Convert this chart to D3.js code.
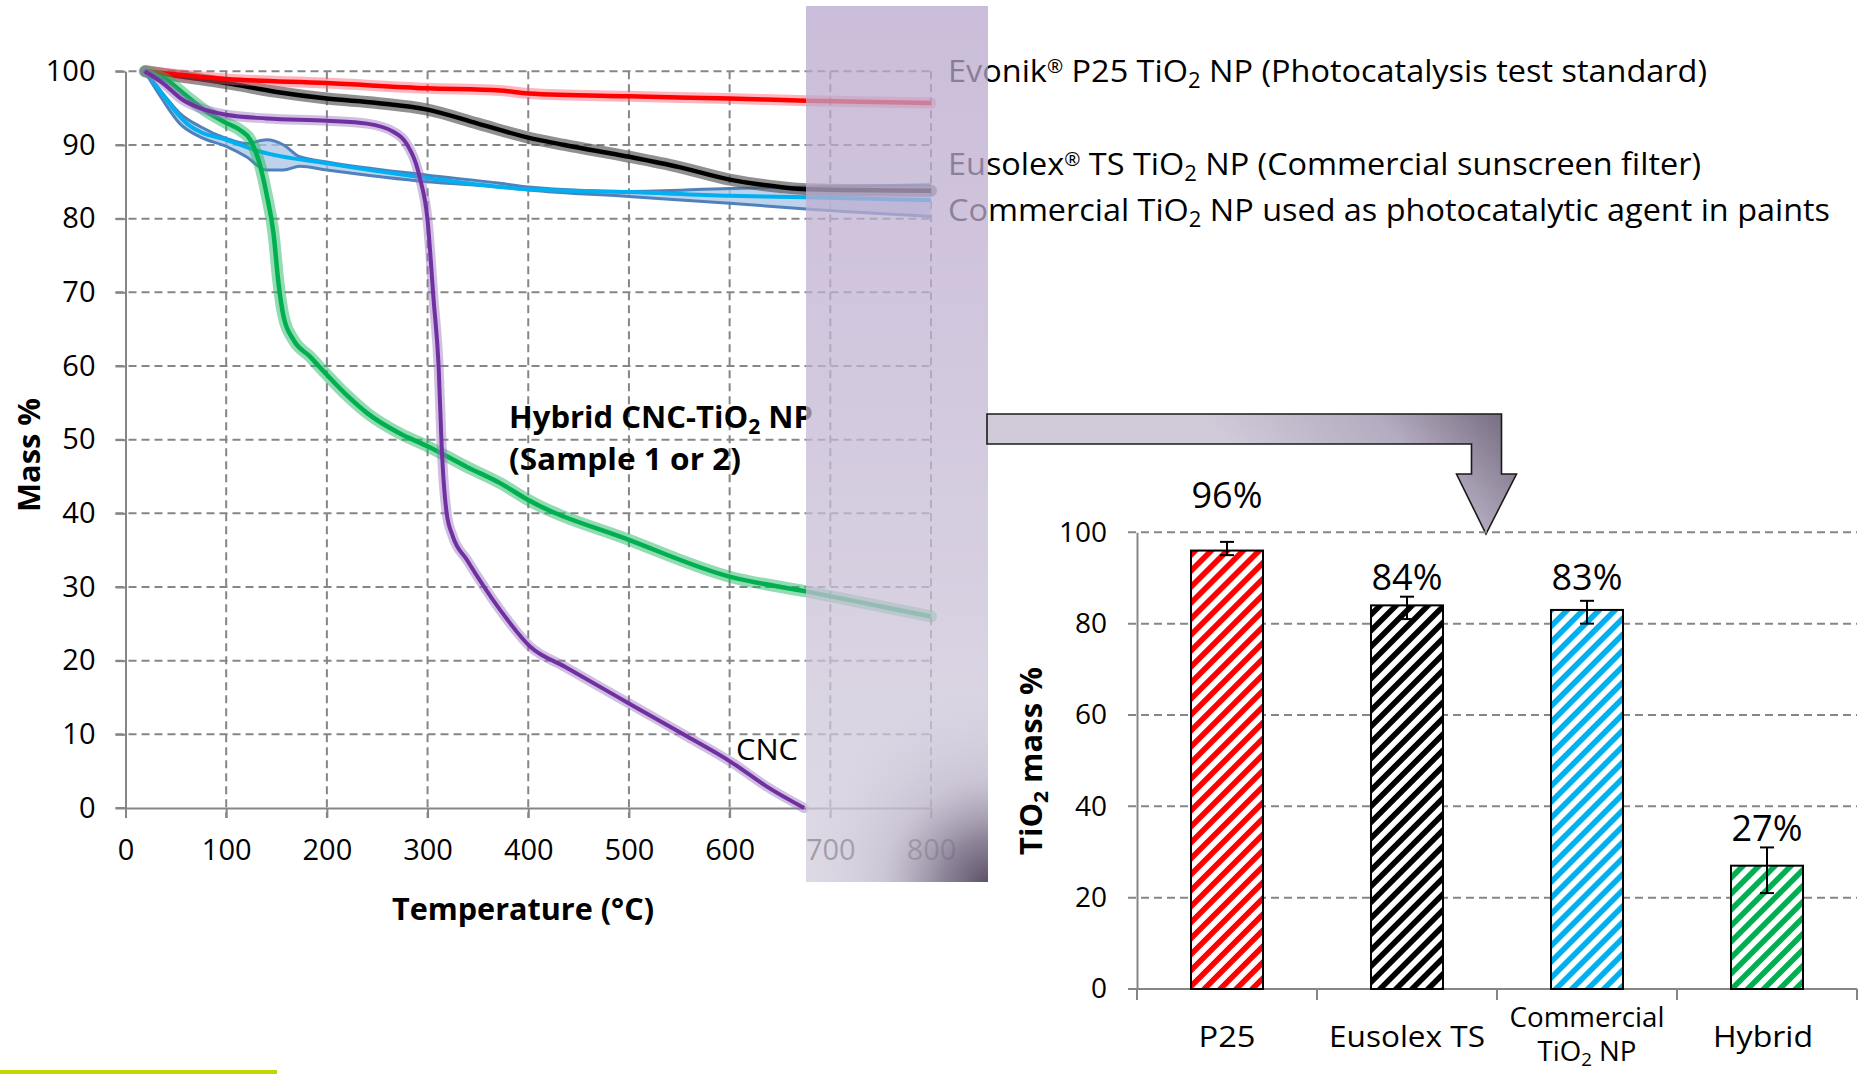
<!DOCTYPE html>
<html>
<head>
<meta charset="utf-8">
<script src="https://cdn.jsdelivr.net/npm/d3@7"></script>
<style>
html, body { margin: 0; padding: 0; background: #fff; }
svg { display: block; font-family: "Open Sans", sans-serif; }
</style>
</head>
<body>
<svg id="chart" width="1864" height="1074"></svg>
<script>
// ---- TGA curves: temperature (°C) / mass (%) ----
var p25Temp = [20, 100, 200, 300, 372, 400, 500, 600, 676, 800];
var p25Mass = [100, 98.95, 98.4, 97.7, 97.4, 97.0, 96.6, 96.3, 96.0, 95.7];

var eusolexTemp = [20, 60, 100, 150, 200, 250, 300, 350, 400, 436, 500, 550, 600, 650, 676, 800];
var eusolexMass = [100, 99.2, 98.4, 97.2, 96.3, 95.7, 94.8, 92.9, 91.0, 90.0, 88.4, 87.0, 85.3, 84.3, 84.0, 83.8];

// commercial TiO2: spread band (upper / lower) plus mean line
var commercialTemp = [19, 37, 54, 74, 100, 120, 140, 157, 173, 200, 300, 372, 400, 500, 600, 676, 800];
var commercialUpper = [100, 97.0, 94.3, 92.5, 90.9, 90.2, 90.7, 90.0, 88.4, 87.7, 85.9, 84.8, 84.3, 83.7, 84.1, 84.3, 84.6];
var commercialLower = [100, 96.1, 92.9, 91.1, 89.8, 88.4, 86.6, 86.6, 87.1, 86.6, 85.0, 84.3, 83.9, 83.0, 82.1, 81.3, 80.3];
var commercialMeanTemp = [19, 31, 41, 51, 61, 74, 100, 134, 200, 300, 372, 400, 500, 600, 676, 800];
var commercialMean = [100, 97.9, 96.1, 94.3, 92.9, 91.8, 90.7, 89.1, 87.5, 85.5, 84.3, 84.0, 83.6, 83.1, 82.9, 82.5];

var hybridTemp = [19, 41, 61, 81, 100, 114, 124, 132, 140, 147, 152, 157, 167, 183, 200, 220, 240, 273, 300, 339, 372, 400, 500, 600, 676, 800];
var hybridMass = [100, 98.8, 96.6, 94.5, 93.0, 92.0, 90.7, 88.0, 83.4, 78.0, 71.2, 66.7, 63.5, 61.3, 58.8, 56.0, 53.6, 50.8, 49.1, 46.3, 44.1, 41.8, 36.4, 31.4, 29.4, 26.0];

var cncTemp = [19, 37, 57, 74, 100, 140, 200, 240, 266, 279, 292, 300, 306, 311, 314, 319, 325, 339, 372, 402, 436, 500, 558, 603, 637, 674];
var cncMass = [100, 98.4, 96.1, 95.0, 94.1, 93.6, 93.3, 92.9, 91.8, 90.2, 85.7, 79.8, 69.0, 59.9, 49.1, 40.0, 36.9, 33.7, 26.9, 21.9, 19.2, 14.2, 9.7, 6.1, 2.9, 0];

var tempTicks = [0, 100, 200, 300, 400, 500, 600, 700, 800];
var massTicks = [0, 10, 20, 30, 40, 50, 60, 70, 80, 90, 100];

// legend lines ("_" = subscript, "^" = superscript)
var legendP25 = ["Evonik", "^®", " P25 TiO", "_2", " NP (Photocatalysis test standard)"];
var legendEusolex = ["Eusolex", "^®", " TS TiO", "_2", " NP (Commercial sunscreen filter)"];
var legendCommercial = ["Commercial TiO", "_2", " NP used as photocatalytic agent in paints"];

// ---- bar chart: TiO2 residue ----
var barNames = ["P25", "Eusolex TS", "Commercial TiO2 NP", "Hybrid"];
var barValues = [96, 84, 83, 27];
var barErrLow = [95, 81, 80, 21];
var barErrHigh = [97.9, 85.9, 85, 31];
var barLabels = ["96%", "84%", "83%", "27%"];
var barLabelAt = [105.3, 87.4, 87.4, 32.3];
var barColors = ["#ff0000", "#000000", "#00b0f0", "#00b050"];
var barTicks = [0, 20, 40, 60, 80, 100];

var svg = d3.select("#chart");
var defs = svg.append("defs");
var gridColor = "#868686";

function addRich(parent, parts, x0, y0, size) {
    var t = parent.append("text").attr("x", x0).attr("y", y0).attr("font-size", size);
    var shift = 0;
    parts.forEach(function (s) {
        var sp = t.append("tspan");
        var target = 0;
        if (s[0] === "_") { target = Math.round(size * 0.2); sp.text(s.slice(1)).attr("font-size", size * 0.68); }
        else if (s[0] === "^") { target = -Math.round(size * 0.3); sp.text(s.slice(1)).attr("font-size", size * 0.6); }
        else sp.text(s);
        if (target !== shift) { sp.attr("dy", target - shift); shift = target; }
    });
    return t;
}

// ================= left chart =================
var x = d3.scaleLinear().domain([0, 800]).range([125.5, 931]);
var y = d3.scaleLinear().domain([0, 100]).range([808, 71.3]);

var grid = svg.append("g");
grid.selectAll("line.h").data(massTicks.filter(function (d) { return d > 0; }))
    .join("line").attr("class", "h")
    .attr("x1", x(0) - 10).attr("x2", x(800))
    .attr("y1", function (d) { return y(d); }).attr("y2", function (d) { return y(d); })
    .attr("stroke", gridColor).attr("stroke-width", 2).attr("stroke-dasharray", "8,5");
grid.selectAll("line.v").data(tempTicks.filter(function (d) { return d > 0; }))
    .join("line").attr("class", "v")
    .attr("x1", function (d) { return x(d); }).attr("x2", function (d) { return x(d); })
    .attr("y1", y(100)).attr("y2", y(0) + 10)
    .attr("stroke", gridColor).attr("stroke-width", 2).attr("stroke-dasharray", "8,5");

var yAxis = svg.append("g")
    .attr("transform", "translate(" + x(0) + ",0)")
    .call(d3.axisLeft(y).tickValues(massTicks).tickSize(10).tickSizeOuter(0).tickPadding(20));
var xAxis = svg.append("g")
    .attr("transform", "translate(0," + y(0) + ")")
    .call(d3.axisBottom(x).tickValues(tempTicks).tickSize(10).tickSizeOuter(0).tickPadding(21));
svg.append("line")
    .attr("x1", x(0) - 10).attr("x2", x(0)).attr("y1", y(0)).attr("y2", y(0))
    .attr("stroke", gridColor).attr("stroke-width", 2);

[yAxis, xAxis].forEach(function (g) {
    g.attr("font-family", null).attr("font-size", 29);
    g.selectAll(".domain, line").attr("stroke", gridColor).attr("stroke-width", 2);
    g.selectAll("text").attr("fill", "#000");
});

var lineGen = function (temps) {
    return d3.line()
        .x(function (d, i) { return x(temps[i]); })
        .y(function (d) { return y(d); })
        .curve(d3.curveMonotoneX);
};

// commercial band
svg.append("path")
    .datum(commercialUpper)
    .attr("d", d3.area()
        .x(function (d, i) { return x(commercialTemp[i]); })
        .y0(function (d, i) { return y(commercialLower[i]); })
        .y1(function (d) { return y(d); })
        .curve(d3.curveMonotoneX))
    .attr("fill", "#aac3e6").attr("fill-opacity", 0.75);
[commercialUpper, commercialLower].forEach(function (arr) {
    svg.append("path").datum(arr)
        .attr("d", lineGen(commercialTemp))
        .attr("fill", "none").attr("stroke", "#4f81bd").attr("stroke-width", 3);
});
svg.append("path").datum(commercialMean)
    .attr("d", lineGen(commercialMeanTemp))
    .attr("fill", "none").attr("stroke", "#00b0f0").attr("stroke-width", 4);

function drawSeries(temps, masses, color, bandColor, bandW, bandOp, w) {
    svg.append("path").datum(masses)
        .attr("d", lineGen(temps))
        .attr("fill", "none").attr("stroke", bandColor)
        .attr("stroke-opacity", bandOp).attr("stroke-width", bandW)
        .attr("stroke-linecap", "round");
    svg.append("path").datum(masses)
        .attr("d", lineGen(temps))
        .attr("fill", "none").attr("stroke", color).attr("stroke-width", w);
}
drawSeries(eusolexTemp, eusolexMass, "#000000", "#555555", 12, 0.65, 4.5);
drawSeries(p25Temp, p25Mass, "#ff0000", "#ff5a6e", 11, 0.45, 4.5);
drawSeries(hybridTemp, hybridMass, "#00b050", "#28b866", 12, 0.5, 4.5);
drawSeries(cncTemp, cncMass, "#7030a0", "#9a70c0", 10, 0.45, 4);

// axis titles
svg.append("text")
    .attr("x", 523).attr("y", 920).attr("text-anchor", "middle")
    .attr("font-size", 30).attr("font-weight", "bold")
    .attr("textLength", 262).attr("lengthAdjust", "spacingAndGlyphs")
    .text("Temperature (°C)");
svg.append("text")
    .attr("x", 40).attr("y", 455).attr("text-anchor", "middle")
    .attr("transform", "rotate(-90 40 455)")
    .attr("font-size", 31).attr("font-weight", "bold")
    .attr("textLength", 114).attr("lengthAdjust", "spacingAndGlyphs")
    .text("Mass %");

// annotations
addRich(svg, ["Hybrid CNC-TiO", "_2", " NP"], 509, 428, 31)
    .attr("font-weight", "bold")
    .attr("textLength", 304).attr("lengthAdjust", "spacingAndGlyphs");
svg.append("text")
    .attr("x", 509).attr("y", 470).attr("font-size", 31).attr("font-weight", "bold")
    .attr("textLength", 232).attr("lengthAdjust", "spacingAndGlyphs")
    .text("(Sample 1 or 2)");
svg.append("text")
    .attr("x", 736).attr("y", 760).attr("font-size", 30)
    .attr("textLength", 62).attr("lengthAdjust", "spacingAndGlyphs")
    .text("CNC");

// legend
addRich(svg, legendP25, 948, 82, 31).attr("textLength", 759).attr("lengthAdjust", "spacingAndGlyphs");
addRich(svg, legendEusolex, 948, 175, 31).attr("textLength", 753).attr("lengthAdjust", "spacingAndGlyphs");
addRich(svg, legendCommercial, 948, 221, 31).attr("textLength", 882).attr("lengthAdjust", "spacingAndGlyphs");

// lavender overlay
var ov = defs.append("linearGradient").attr("id", "ovFill")
    .attr("x1", 0).attr("y1", 0).attr("x2", 0).attr("y2", 1);
ov.append("stop").attr("offset", 0).attr("stop-color", "#b8a6cc");
ov.append("stop").attr("offset", 0.45).attr("stop-color", "#c3b6d3");
ov.append("stop").attr("offset", 1).attr("stop-color", "#d2cedc");
var ovDark = defs.append("radialGradient").attr("id", "ovDark")
    .attr("gradientUnits", "userSpaceOnUse")
    .attr("cx", 992).attr("cy", 888).attr("r", 200);
ovDark.append("stop").attr("offset", 0).attr("stop-color", "#54485f").attr("stop-opacity", 1);
ovDark.append("stop").attr("offset", 0.25).attr("stop-color", "#7a6f86").attr("stop-opacity", 0.8);
ovDark.append("stop").attr("offset", 0.55).attr("stop-color", "#b2aabf").attr("stop-opacity", 0.4);
ovDark.append("stop").attr("offset", 1).attr("stop-color", "#d2cedc").attr("stop-opacity", 0);

svg.append("rect").attr("x", 806).attr("y", 6).attr("width", 182).attr("height", 876)
    .attr("fill", "url(#ovFill)").attr("opacity", 0.74);
svg.append("rect").attr("x", 806).attr("y", 6).attr("width", 182).attr("height", 876)
    .attr("fill", "url(#ovDark)");

// bent arrow
var ag = defs.append("linearGradient").attr("id", "arrowFill")
    .attr("gradientUnits", "userSpaceOnUse")
    .attr("x1", 1510).attr("y1", 400).attr("x2", 1330).attr("y2", 560);
ag.append("stop").attr("offset", 0).attr("stop-color", "#6f6479");
ag.append("stop").attr("offset", 0.45).attr("stop-color", "#b3abbf");
ag.append("stop").attr("offset", 1).attr("stop-color", "#d0cad9");
svg.append("path")
    .attr("d", "M987,414 L1501.5,414 L1501.5,474 L1516.5,474 L1486,534 L1456.5,474 L1471.5,474 L1471.5,444 L987,444 Z")
    .attr("fill", "url(#arrowFill)").attr("stroke", "#1a1a1a").attr("stroke-width", 1.6);

// ================= bar chart =================
var bx = d3.scaleBand().domain(barNames).range([1137, 1857]).paddingInner(0.6).paddingOuter(0.3);
var by = d3.scaleLinear().domain([0, 100]).range([989, 532.3]);

barColors.forEach(function (c, i) {
    var p = defs.append("pattern").attr("id", "hatch" + i)
        .attr("patternUnits", "userSpaceOnUse")
        .attr("width", 11.3).attr("height", 11.3)
        .attr("patternTransform", "rotate(45)");
    p.append("rect").attr("width", 11.3).attr("height", 11.3).attr("fill", "#fff");
    p.append("rect").attr("width", 5.6).attr("height", 11.3).attr("fill", c);
});

svg.append("g").selectAll("line")
    .data(barTicks.filter(function (d) { return d > 0; }))
    .join("line")
    .attr("x1", 1128).attr("x2", 1857)
    .attr("y1", function (d) { return by(d); }).attr("y2", function (d) { return by(d); })
    .attr("stroke", gridColor).attr("stroke-width", 2).attr("stroke-dasharray", "8,5");

var byAxis = svg.append("g")
    .attr("transform", "translate(1137,0)")
    .call(d3.axisLeft(by).tickValues(barTicks).tickSize(0).tickSizeOuter(0).tickPadding(30));
byAxis.attr("font-family", null).attr("font-size", 28);
byAxis.select(".domain").attr("stroke", gridColor).attr("stroke-width", 2);
byAxis.selectAll("text").attr("fill", "#000");

svg.append("line").attr("x1", 1128).attr("x2", 1857).attr("y1", by(0)).attr("y2", by(0))
    .attr("stroke", gridColor).attr("stroke-width", 2);
svg.append("g").selectAll("line")
    .data(d3.range(barNames.length + 1))
    .join("line")
    .attr("x1", function (i) { return bx.range()[0] + i * bx.step(); })
    .attr("x2", function (i) { return bx.range()[0] + i * bx.step(); })
    .attr("y1", by(0)).attr("y2", by(0) + 11)
    .attr("stroke", gridColor).attr("stroke-width", 2);

var bars = svg.append("g").selectAll("g").data(barNames).join("g");
bars.append("rect")
    .attr("x", function (d) { return bx(d); })
    .attr("width", bx.bandwidth())
    .attr("y", function (d, i) { return by(barValues[i]); })
    .attr("height", function (d, i) { return by(0) - by(barValues[i]); })
    .attr("fill", function (d, i) { return "url(#hatch" + i + ")"; })
    .attr("stroke", "#000").attr("stroke-width", 2);

var cx = function (d) { return bx(d) + bx.bandwidth() / 2; };
bars.append("line")
    .attr("x1", cx).attr("x2", cx)
    .attr("y1", function (d, i) { return by(barErrHigh[i]); })
    .attr("y2", function (d, i) { return by(barErrLow[i]); })
    .attr("stroke", "#000").attr("stroke-width", 2);
[barErrHigh, barErrLow].forEach(function (arr) {
    bars.append("line")
        .attr("x1", function (d) { return cx(d) - 7; })
        .attr("x2", function (d) { return cx(d) + 7; })
        .attr("y1", function (d, i) { return by(arr[i]); })
        .attr("y2", function (d, i) { return by(arr[i]); })
        .attr("stroke", "#000").attr("stroke-width", 2);
});
bars.append("text")
    .attr("x", cx)
    .attr("y", function (d, i) { return by(barLabelAt[i]); })
    .attr("text-anchor", "middle").attr("font-size", 36)
    .text(function (d, i) { return barLabels[i]; });

// category labels
svg.append("text").attr("x", cx("P25")).attr("y", 1047).attr("text-anchor", "middle")
    .attr("font-size", 30).attr("textLength", 57).attr("lengthAdjust", "spacingAndGlyphs").text("P25");
svg.append("text").attr("x", cx("Eusolex TS")).attr("y", 1047).attr("text-anchor", "middle")
    .attr("font-size", 30).attr("textLength", 156).attr("lengthAdjust", "spacingAndGlyphs").text("Eusolex TS");
svg.append("text").attr("x", cx("Commercial TiO2 NP")).attr("y", 1027).attr("text-anchor", "middle")
    .attr("font-size", 27).attr("textLength", 155).attr("lengthAdjust", "spacingAndGlyphs").text("Commercial");
addRich(svg, ["TiO", "_2", " NP"], cx("Commercial TiO2 NP"), 1061, 27)
    .attr("text-anchor", "middle").attr("textLength", 99).attr("lengthAdjust", "spacingAndGlyphs");
svg.append("text").attr("x", cx("Hybrid") - 4).attr("y", 1047).attr("text-anchor", "middle")
    .attr("font-size", 30).attr("textLength", 100).attr("lengthAdjust", "spacingAndGlyphs").text("Hybrid");

addRich(svg, ["TiO", "_2", " mass %"], 1042, 761, 30)
    .attr("text-anchor", "middle").attr("font-weight", "bold")
    .attr("transform", "rotate(-90 1042 761)")
    .attr("textLength", 188).attr("lengthAdjust", "spacingAndGlyphs");

// lime accent line
svg.append("rect").attr("x", 0).attr("y", 1070).attr("width", 277).attr("height", 4).attr("fill", "#c4d600");
</script>
</body>
</html>
